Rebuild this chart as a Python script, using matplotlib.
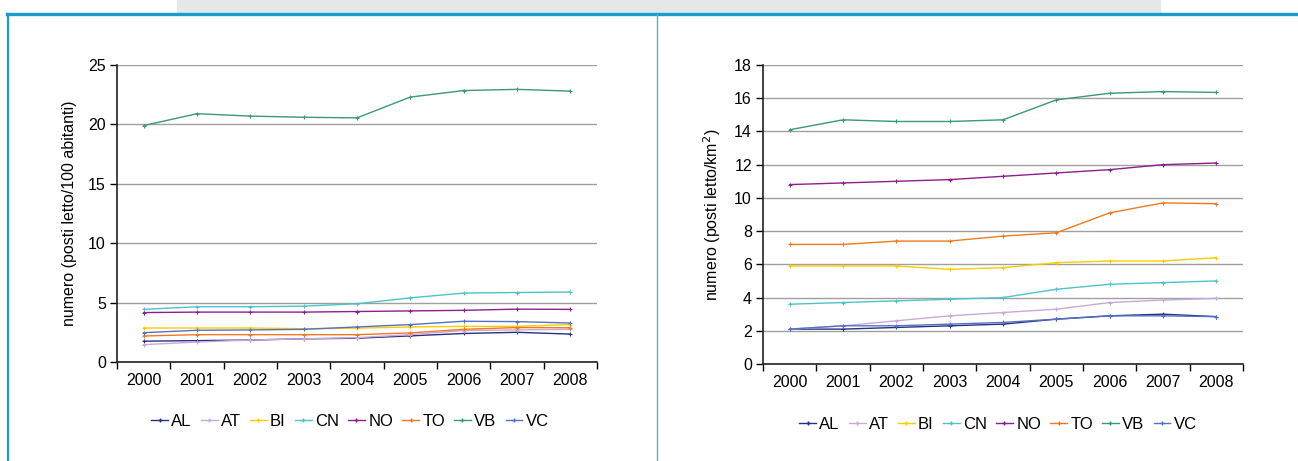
import matplotlib.pyplot as plt
from matplotlib.lines import Line2D
from matplotlib.patches import Rectangle

plt.rcParams['font.family'] = ['Liberation Sans', 'DejaVu Sans']

years = ['2000', '2001', '2002', '2003', '2004', '2005', '2006', '2007', '2008']
provinces = ['AL', 'AT', 'BI', 'CN', 'NO', 'TO', 'VB', 'VC']
colors = ['#28307f', '#c9a9dc', '#ffcc00', '#4cc4c8', '#8c1f8c', '#f07a22', '#3a9a72', '#5472c4']

# posti letto ogni 100 abitanti
per_100_ab = {
    'AL': [1.75, 1.8, 1.85, 1.95, 2.0, 2.2, 2.4, 2.5, 2.35],
    'AT': [1.46, 1.68, 1.85, 1.95, 2.05, 2.3, 2.65, 2.7, 2.75],
    'BI': [2.86, 2.86, 2.86, 2.8, 2.85, 2.95, 3.0, 3.0, 3.15],
    'CN': [4.43, 4.65, 4.65, 4.7, 4.9, 5.4, 5.8, 5.85, 5.89],
    'NO': [4.16, 4.2, 4.2, 4.2, 4.25, 4.3, 4.35, 4.45, 4.43],
    'TO': [2.19, 2.3, 2.3, 2.3, 2.3, 2.45, 2.75, 2.9, 2.88],
    'VB': [19.9, 20.9, 20.7, 20.6, 20.55, 22.3, 22.85, 22.95, 22.8],
    'VC': [2.47, 2.67, 2.7, 2.75, 2.95, 3.15, 3.43, 3.4, 3.28],
}

# posti letto per km2
per_km2 = {
    'AL': [2.1, 2.1, 2.2, 2.3, 2.4, 2.7, 2.9, 3.0, 2.85],
    'AT': [2.1, 2.3, 2.6, 2.9, 3.1, 3.3, 3.7, 3.85, 3.95],
    'BI': [5.9, 5.9, 5.9, 5.7, 5.8, 6.1, 6.2, 6.2, 6.4],
    'CN': [3.6, 3.7, 3.8, 3.9, 4.0, 4.5, 4.8, 4.9, 5.0],
    'NO': [10.8, 10.9, 11.0, 11.1, 11.3, 11.5, 11.7, 12.0, 12.1],
    'TO': [7.2, 7.2, 7.4, 7.4, 7.7, 7.9, 9.1, 9.7, 9.65],
    'VB': [14.1, 14.7, 14.6, 14.6, 14.7, 15.9, 16.3, 16.4, 16.35],
    'VC': [2.1, 2.3, 2.3, 2.4, 2.5, 2.7, 2.9, 2.9, 2.85],
}

fig = plt.figure(figsize=(12.98, 4.61), dpi=100)

# page decoration: grey band, blue frame lines
W, H = 1298, 461
fig.patches.append(Rectangle((177 / W, 1 - 12 / H), (1160 - 177) / W, 12 / H,
                             transform=fig.transFigure, color='#e6e7e8', zorder=0))
fig.add_artist(Line2D([7 / W, 1], [1 - 14 / H] * 2, color='#1a9bd0', lw=2.4))
fig.add_artist(Line2D([8 / W] * 2, [0, 1 - 14 / H], color='#1a9bd0', lw=1.6))
fig.add_artist(Line2D([657 / W] * 2, [0, 1 - 14 / H], color='#4ab4e0', lw=1.0))


def draw_panel(rect, data, ymax, ystep, ylabel, legend_pos):
    ax = fig.add_axes(rect)
    x = list(range(len(years)))
    for name, col in zip(provinces, colors):
        ax.plot(x, data[name], color=col, lw=1.0, marker='+', ms=3, mew=0.8)
    ax.set_xlim(-0.5, len(years) - 0.5)
    ax.set_ylim(0, ymax)
    ax.set_yticks(range(0, ymax + 1, ystep))
    ax.set_xticks(x)
    ax.set_xticklabels(years)
    ax.set_xticks([i - 0.5 for i in range(len(years) + 1)], minor=True)
    ax.tick_params(axis='x', which='major', length=0, pad=8, labelsize=11.5)
    ax.tick_params(axis='x', which='minor', length=5, width=1, direction='out')
    ax.tick_params(axis='y', length=5, width=1, labelsize=11.5, pad=3)
    ax.grid(axis='y', color='#a0a0a0', lw=1)
    ax.set_axisbelow(True)
    for s in ['top', 'right']:
        ax.spines[s].set_visible(False)
    for s in ['left', 'bottom']:
        ax.spines[s].set_color('#222222')
        ax.spines[s].set_linewidth(1.2)
    ax.set_ylabel(ylabel, fontsize=11.5, labelpad=8)
    handles = [Line2D([], [], color=c, lw=1.0, marker='+', ms=3) for c in colors]
    fig.legend(handles, provinces, loc='center', bbox_to_anchor=legend_pos, ncol=8,
               frameon=False, fontsize=12, handlelength=1.0, handletextpad=0.2,
               columnspacing=0.55, borderpad=0.2)
    return ax


draw_panel([117 / W, 1 - 362 / H, 480 / W, 297 / H], per_100_ab, 25, 5,
           'numero (posti letto/100 abitanti)', (350 / W, 1 - 421 / H))
draw_panel([763 / W, 1 - 364 / H, 480 / W, 299 / H], per_km2, 18, 2,
           'numero (posti letto/km$^2$)', (998 / W, 1 - 424 / H))

fig.savefig('out.png', dpi=100)
